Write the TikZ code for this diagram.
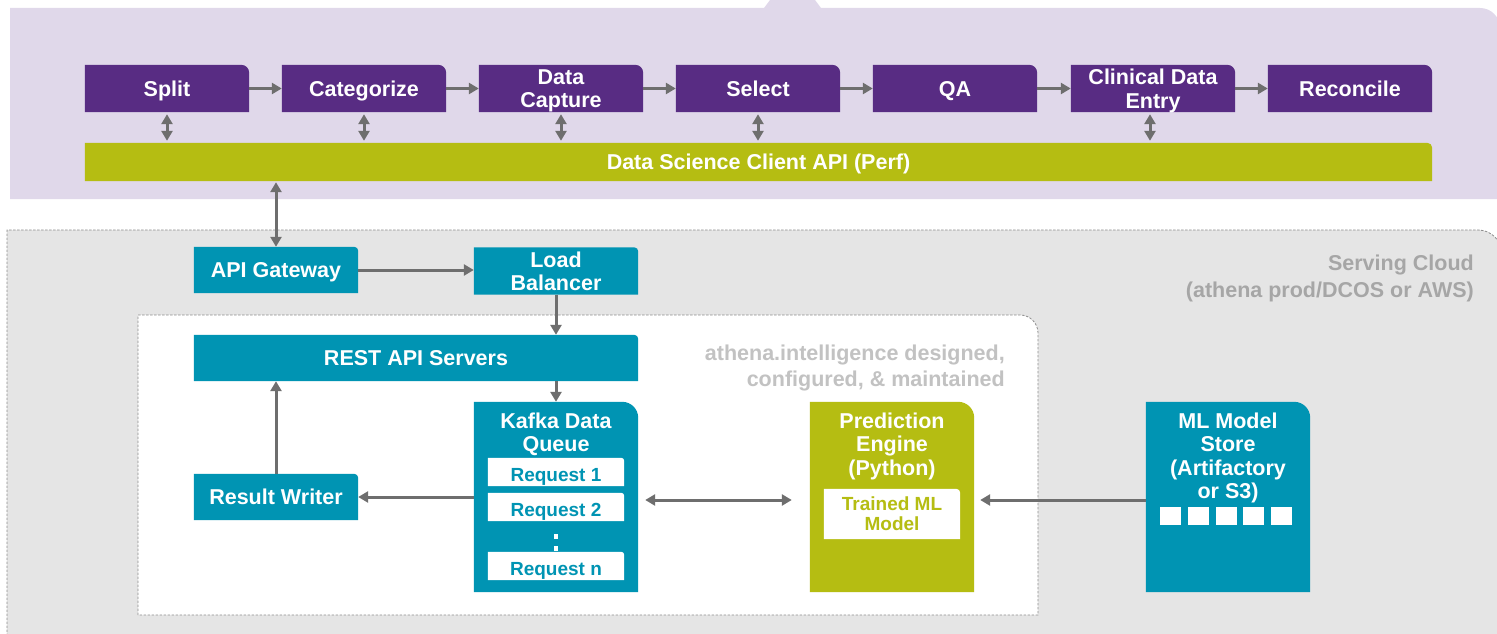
\documentclass[tikz,border=0pt]{standalone}
\usepackage{fontspec}
\setmainfont{Liberation Sans}
\usetikzlibrary{arrows.meta}

\definecolor{stagepurple}{HTML}{582C83}
\definecolor{lilac}{HTML}{E0D8EA}
\definecolor{apigreen}{HTML}{B5BD12}
\definecolor{teal}{HTML}{0094B3}
\definecolor{cloudgray}{HTML}{E5E5E5}
\definecolor{arrowgray}{HTML}{6E6E6E}
\definecolor{dashgray}{HTML}{8C8C8C}
\definecolor{cloudtext}{HTML}{A6A6A6}
\definecolor{teamtext}{HTML}{C2C2C2}

\pgfdeclarelayer{regions}
\pgfdeclarelayer{boxes}
\pgfsetlayers{regions,boxes,main}

% fill behind a node, with only its top-right corner rounded
\newcommand\cornerfill[3][8]{%
  \begin{pgfonlayer}{boxes}
    \fill[#3] (#2.south west) -- (#2.north west) -- ([xshift=-#1pt]#2.north east)
      arc[start angle=90,end angle=0,radius=#1pt] -- (#2.south east) -- cycle;
  \end{pgfonlayer}}

\tikzset{
  boxtext/.style={inner sep=0pt, align=center, text=white, text depth=0pt,
    font=\bfseries\fontsize{21.5}{23.5}\selectfont},
  stage/.style={boxtext, minimum width=164pt, minimum height=47pt},
  tallbox/.style={inner sep=0pt, minimum width=164pt, minimum height=190pt},
  reqbox/.style={inner sep=0pt, minimum width=136pt, minimum height=28pt,
    text height=19.6pt, text depth=0pt,
    text=teal, font=\bfseries\fontsize{19}{21}\selectfont},
  queuedot/.style={rectangle, fill=white, inner sep=0pt, minimum size=4.2pt},
  conn/.style={draw=arrowgray, line width=3pt, -{Triangle[length=10pt,width=11pt]}},
  dbl/.style={draw=arrowgray, line width=3pt,
    {Triangle[length=10pt,width=11pt]}-{Triangle[length=10pt,width=11pt]}},
  regionborder/.style={draw=dashgray, line width=0.8pt, dash pattern=on 2.5pt off 1.5pt},
  regiontext/.style={anchor=east, align=right, inner sep=0pt, text depth=0pt},
}

\begin{document}
\begin{tikzpicture}[x=1pt,y=-1pt]
\useasboundingbox (0,0) rectangle (1497,634);

% ---- background regions ----
\begin{pgfonlayer}{regions}
  \fill[lilac] (10,199) -- (10,8) -- (764,8) -- (770,0) -- (815,0) -- (821,8)
    -- (1480,8) arc[start angle=90,end angle=0,radius=20pt] -- (1500,199) -- cycle;
  \path[fill=cloudgray, regionborder] (7,640) -- (7,230) -- (1478,230)
    arc[start angle=90,end angle=0,radius=24pt] -- (1502,640);
  \path[fill=white, regionborder] (138,615) -- (138,315) -- (1020,315)
    arc[start angle=90,end angle=0,radius=18pt] -- (1038,615) -- cycle;
\end{pgfonlayer}

% ---- workflow stages ----
\node[stage] (split)      at (167,88.5)  {Split};
\node[stage] (categorize) at (364,88.5)  {Categorize};
\node[stage] (capture)    at (561,88.5)  {Data\\Capture};
\node[stage] (select)     at (758,88.5)  {Select};
\node[stage] (qa)         at (955,88.5)  {QA};
\node[stage] (clinical)   at (1153,88.5) {Clinical Data\\Entry};
\node[stage] (reconcile)  at (1350,88.5) {Reconcile};
\foreach \n in {split,categorize,capture,select,qa,clinical,reconcile}
  {\cornerfill{\n}{stagepurple}}

\node[boxtext, minimum width=1347pt, minimum height=38pt] (api) at (758.5,162)
  {Data Science Client API (Perf)};
\cornerfill[5]{api}{apigreen}

\foreach \a/\b in {split/categorize,categorize/capture,capture/select,
                   select/qa,qa/clinical,clinical/reconcile}
  {\draw[conn] (\a) -- (\b);}

\foreach \n in {split,categorize,capture,select}
  {\draw[dbl, shorten <=2pt, shorten >=2pt] (\n.south) -- (\n.south |- api.north);}
\draw[dbl, shorten <=2pt, shorten >=2pt]
  ([xshift=-3pt]clinical.south) -- ([xshift=-3pt]clinical.south |- api.north);

% ---- serving cloud ----
\node[regiontext, text=cloudtext, font=\bfseries\fontsize{21.5}{27}\selectfont]
  (cloudlabel) at (1474,276) {Serving Cloud\\(athena prod/DCOS or AWS)};
\node[regiontext, text=teamtext, font=\bfseries\fontsize{21.5}{26}\selectfont]
  (teamlabel) at (1005,366) {athena.intelligence designed,\\configured, \& maintained};

\node[stage, minimum height=46pt] (gateway) at (276,270) {API Gateway};
\node[stage] (lb) at (556,271) {Load\\Balancer};
\node[boxtext, minimum width=444pt, minimum height=46pt] (rest) at (416,358)
  {REST API Servers};
\node[stage, minimum height=46pt] (writer) at (276,497) {Result Writer};
\node[tallbox] (kafka) at (556,497) {};
\node[tallbox] (pred)  at (892,497) {};
\node[tallbox] (store) at (1228,497) {};
\foreach \n in {gateway,lb,rest,writer}
  {\cornerfill[4]{\n}{teal}}
\cornerfill[16]{kafka}{teal}
\cornerfill[16]{pred}{apigreen}
\cornerfill[16]{store}{teal}

% titles inside the tall boxes
\node[boxtext] (kafkatitle) at (556,432) {Kafka Data\\Queue};
\node[boxtext] (predtitle)  at (892,444) {Prediction\\Engine\\(Python)};
\node[boxtext] (storetitle) at (1228,455.5) {ML Model\\Store\\(Artifactory\\or S3)};

% queued requests
\node[reqbox] (req1) at (556,472) {Request 1};
\node[reqbox] (req2) at (556,507) {Request 2};
\node[reqbox] (reqn) at (556,566) {Request n};
\foreach \n in {req1,req2,reqn} {\cornerfill[3]{\n}{white}}
\node[queuedot] (dota) at (556,536.5) {};
\node[queuedot] (dotb) at (556,548.5) {};

% trained model inside the engine
\node[inner sep=0pt, minimum width=136pt, minimum height=50pt, align=center,
  text depth=0pt, text=apigreen, font=\bfseries\fontsize{19}{20}\selectfont]
  (model) at (892,514) {Trained ML\\Model};
\cornerfill[4]{model}{white}

% stored artifacts
\foreach \i in {0,...,4}
  {\fill[white] ({1160+27.8*\i},507) rectangle ++(21,18);}

% ---- connectors ----
\draw[dbl, shorten <=1pt] (api.south -| gateway.north) -- (gateway.north);
\draw[conn] (gateway) -- (gateway -| lb.west);
\draw[conn] (lb.south) -- (lb.south |- rest.north);
\draw[conn] (rest.south -| kafka.north) -- (kafka.north);
\draw[conn] (writer.north) -- (writer.north |- rest.south);
\draw[conn] (kafka.west) -- (writer.east);
\draw[dbl, shorten <=7pt, shorten >=18pt]
  ([yshift=-3pt]kafka.east) -- ([yshift=-3pt]pred.west);
\draw[conn, shorten >=6pt] ([yshift=-3pt]store.west) -- ([yshift=-3pt]pred.east);
\end{tikzpicture}
\end{document}
